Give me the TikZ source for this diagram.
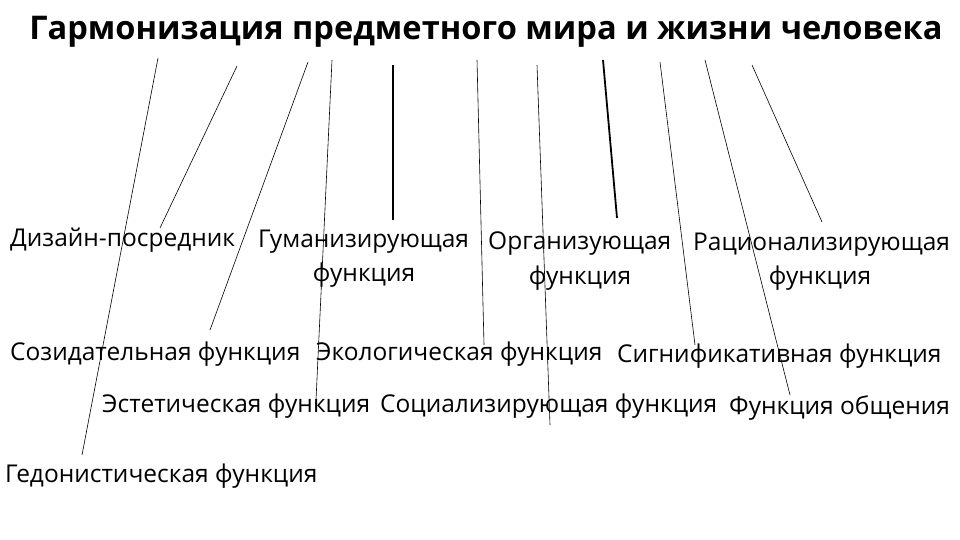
\documentclass[tikz,border=0pt]{standalone}
\usepackage{fontspec}
\setmainfont{Open Sans}
\begin{document}
\begin{tikzpicture}[x=1pt,y=-1pt,
  lab/.style={anchor=west,inner sep=0pt,font=\fontsize{24.5}{28}\selectfont},
  labc/.style={inner sep=0pt,font=\fontsize{24.5}{28}\selectfont},
  ln/.style={draw,line width=0.6pt},
  thk/.style={draw,line width=1.8pt}]
\useasboundingbox (0,0) rectangle (960,540);
\node[inner sep=0pt,font=\bfseries\fontsize{32.6}{38}\selectfont] (t) at (486,32) {Гармонизация предметного мира и жизни человека};
\node[lab] (d) at (10,240) {Дизайн-посредник};
\node[lab] (g) at (258,242) {Гуманизирующая};
\node[labc] (g2) at (364,275) {функция};
\node[lab] (o) at (488,244) {Организующая};
\node[labc] (o2) at (580,278) {функция};
\node[lab] (r) at (693,245) {Рационализирующая};
\node[labc] (r2) at (820,278) {функция};
\node[lab] (s) at (10,354) {Созидательная функция};
\node[lab] (e) at (316,354) {Экологическая функция};
\node[lab] (sg) at (617,356) {Сигнификативная функция};
\node[lab] (es) at (102,406) {Эстетическая функция};
\node[lab] (so) at (380,406) {Социализирующая функция};
\node[lab] (f) at (729,408) {Функция общения};
\node[lab] (h) at (5,476) {Гедонистическая функция};
\foreach \n/\a/\b/\c/\d in {1/158/58/82/455, 2/237/66/160/228, 3/308/62/210/330, 4/332/60/316/400, 6/477/60/484/345, 7/537/65/550/425, 9/660/62/695/345, 10/705/60/790/395, 11/752/65/822/222}{
  \coordinate (a\n) at (\a,\b); \coordinate (b\n) at (\c,\d);
  \draw[ln] (a\n) -- (b\n);
}
\coordinate (a5) at (393,65); \coordinate (b5) at (393,220);
\coordinate (a8) at (603,60); \coordinate (b8) at (617,218);
\draw[thk] (a5) -- (b5);
\draw[thk] (a8) -- (b8);
\end{tikzpicture}
\end{document}
